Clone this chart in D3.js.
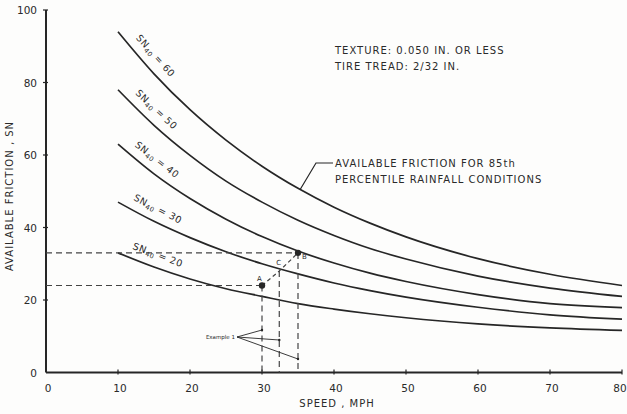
<!DOCTYPE html>
<html>
<head>
<meta charset="utf-8">
<script src="https://cdn.jsdelivr.net/npm/d3@7"></script>
<style>
  html, body { margin: 0; padding: 0; background: #fdfdfc; }
  svg { display: block; }
  text { font-family: "DejaVu Sans", sans-serif; fill: #2a2a2a; }
</style>
</head>
<body>
<svg id="chart" width="627" height="414"></svg>
<script>
// Speeds (mph) at which each friction curve is tabulated
const speeds = [10, 15, 20, 25, 30, 35, 40, 45, 50, 60, 70, 80];

// Available friction SN for each SN40 level
const sn60 = [94, 82.4, 72.5, 64.1, 56.9, 50.8, 45.6, 41.2, 37.4, 31.4, 27.1, 24];
const sn50 = [78, 68.2, 59.9, 52.8, 47, 42, 37.8, 34.2, 31.3, 26.6, 23.3, 21];
const sn40 = [63, 54.8, 48, 42.3, 37.5, 33.5, 30.2, 27.4, 25.1, 21.5, 19, 17.9];
const sn30 = [47, 41.7, 37.2, 33.3, 30, 27.2, 24.7, 22.6, 20.8, 18, 15.9, 14.7];
const sn20 = [33, 29.1, 25.8, 23.1, 21, 19, 17.5, 16.2, 15.1, 13.4, 12.3, 11.6];

const curveLevels = [60, 50, 40, 30, 20];
const curveValues = [sn60, sn50, sn40, sn30, sn20];

// Worked example: points A, C, B
const exampleNames = ["A", "C", "B"];
const exampleSpeeds = [30, 32.4, 35];
const exampleSN = [24, 28, 33];

const xTicks = [0, 10, 20, 30, 40, 50, 60, 70, 80];
const yTicks = [0, 20, 40, 60, 80, 100];

const noteLines = ["TEXTURE: 0.050  IN. OR  LESS", "TIRE  TREAD: 2/32  IN."];
const calloutLines = ["AVAILABLE  FRICTION  FOR  85th", "PERCENTILE  RAINFALL  CONDITIONS"];

const svg = d3.select("#chart");
const x = d3.scaleLinear().domain([0, 80]).range([46, 622]);
const y = d3.scaleLinear().domain([0, 100]).range([372.5, 10]);

const ink = "#262626";

// Axes
svg.append("line").attr("x1", x(0)).attr("x2", x(80)).attr("y1", y(0)).attr("y2", y(0))
  .attr("stroke", ink).attr("stroke-width", 2);
svg.append("line").attr("x1", x(0)).attr("x2", x(0)).attr("y1", y(0)).attr("y2", y(100))
  .attr("stroke", ink).attr("stroke-width", 2);

const xAxis = svg.append("g");
xAxis.selectAll("line").data(xTicks.slice(1)).join("line")
  .attr("x1", d => x(d)).attr("x2", d => x(d))
  .attr("y1", y(0) - 3).attr("y2", y(0) + 2)
  .attr("stroke", ink).attr("stroke-width", 1.2);
xAxis.selectAll("text").data(xTicks).join("text")
  .attr("x", d => d === 80 ? x(d) - 2 : x(d) + 2).attr("y", y(0) + 19)
  .attr("text-anchor", "middle").attr("font-size", 10.5)
  .text(d => d);

const yAxis = svg.append("g");
yAxis.selectAll("line").data(yTicks.slice(1)).join("line")
  .attr("x1", x(0) - 3).attr("x2", x(0) + 2)
  .attr("y1", d => y(d)).attr("y2", d => y(d))
  .attr("stroke", ink).attr("stroke-width", 1.2);
yAxis.selectAll("text").data(yTicks).join("text")
  .attr("x", 37).attr("y", d => y(d) + 4)
  .attr("text-anchor", "end").attr("font-size", 10.5)
  .text(d => d);

svg.append("text")
  .attr("transform", `translate(13,196) rotate(-90)`)
  .attr("text-anchor", "middle").attr("font-size", 10).attr("letter-spacing", 1)
  .text("AVAILABLE  FRICTION , SN");

svg.append("text")
  .attr("x", 337).attr("y", 407)
  .attr("text-anchor", "middle").attr("font-size", 10).attr("letter-spacing", 1)
  .text("SPEED , MPH");

// Friction curves
const line = d3.line().x(d => x(d[0])).y(d => y(d[1])).curve(d3.curveMonotoneX);
curveValues.forEach(vals => {
  svg.append("path")
    .datum(speeds.map((s, i) => [s, vals[i]]))
    .attr("d", line)
    .attr("fill", "none").attr("stroke", ink).attr("stroke-width", 1.7);
});

// Curve labels set along each curve
function interp(vals, s) {
  for (let i = 0; i < speeds.length - 1; i++) {
    if (s >= speeds[i] && s <= speeds[i + 1]) {
      const t = (s - speeds[i]) / (speeds[i + 1] - speeds[i]);
      return vals[i] + t * (vals[i + 1] - vals[i]);
    }
  }
  return vals[vals.length - 1];
}
curveLevels.forEach((lvl, k) => {
  const vals = curveValues[k];
  const s0 = 11.5, s1 = 16.5;
  const px0 = x(s0), py0 = y(interp(vals, s0));
  const px1 = x(s1), py1 = y(interp(vals, s1));
  const ang = Math.atan2(py1 - py0, px1 - px0);
  const off = 9;
  const ax = px0 + Math.sin(ang) * off, ay = py0 - Math.cos(ang) * off;
  const t = svg.append("text")
    .attr("transform", `translate(${ax},${ay}) rotate(${ang * 180 / Math.PI})`)
    .attr("font-size", 9.5).attr("letter-spacing", 0.6);
  t.append("tspan").text("SN");
  t.append("tspan").attr("font-size", 6.5).attr("dy", 2).text("40");
  t.append("tspan").attr("dy", -2).text(" = " + lvl);
});

// Notes
svg.append("g").selectAll("text").data(noteLines).join("text")
  .attr("x", 335).attr("y", (d, i) => 54 + i * 16)
  .attr("font-size", 10).attr("letter-spacing", 1)
  .text(d => d);

svg.append("g").selectAll("text").data(calloutLines).join("text")
  .attr("x", 335).attr("y", (d, i) => 167 + i * 16)
  .attr("font-size", 10).attr("letter-spacing", 1)
  .text(d => d);

// Leader from callout to top curve
svg.append("polyline")
  .attr("points", `333,163 316,163 ${x(35.3)},${y(interp(sn60, 35.3))}`)
  .attr("fill", "none").attr("stroke", ink).attr("stroke-width", 1.2);

// Example construction lines
const dash = "6,4";
const ex = exampleSpeeds.map((s, i) => ({ name: exampleNames[i], s, v: exampleSN[i] }));
const A = ex[0], C = ex[1], B = ex[2];
const g = svg.append("g").attr("stroke", "#444").attr("stroke-width", 1.2)
  .attr("stroke-dasharray", dash).attr("fill", "none");
[A, B].forEach(p => {
  g.append("line").attr("x1", x(0)).attr("x2", x(p.s)).attr("y1", y(p.v)).attr("y2", y(p.v));
});
ex.forEach(p => {
  g.append("line").attr("x1", x(p.s)).attr("x2", x(p.s)).attr("y1", y(p.v)).attr("y2", y(0));
});
g.append("polyline")
  .attr("points", ex.map(p => `${x(p.s)},${y(p.v)}`).join(" "))
  .attr("stroke-dasharray", "4,3");

[A, B].forEach(p => {
  svg.append("circle").attr("cx", x(p.s)).attr("cy", y(p.v)).attr("r", 3.2).attr("fill", ink);
});
svg.append("text").attr("x", x(A.s) - 5).attr("y", y(A.v) - 5).attr("font-size", 7).text(A.name);
svg.append("text").attr("x", x(C.s) - 3).attr("y", y(C.v) - 6).attr("font-size", 7).text(C.name);
svg.append("text").attr("x", x(B.s) + 4).attr("y", y(B.v) + 6).attr("font-size", 7).text(B.name);

// "Example 1" pointer
svg.append("text").attr("x", 235).attr("y", 339).attr("text-anchor", "end")
  .attr("font-size", 5.5).text("Example 1");
const targets = [[x(A.s), 330], [x(C.s), 340], [x(B.s), 359]];
targets.forEach(([tx, ty]) => {
  svg.append("line").attr("x1", 237).attr("y1", 337).attr("x2", tx).attr("y2", ty)
    .attr("stroke", ink).attr("stroke-width", 0.9);
  svg.append("circle").attr("cx", tx).attr("cy", ty).attr("r", 1.2).attr("fill", ink);
});
</script>
</body>
</html>
